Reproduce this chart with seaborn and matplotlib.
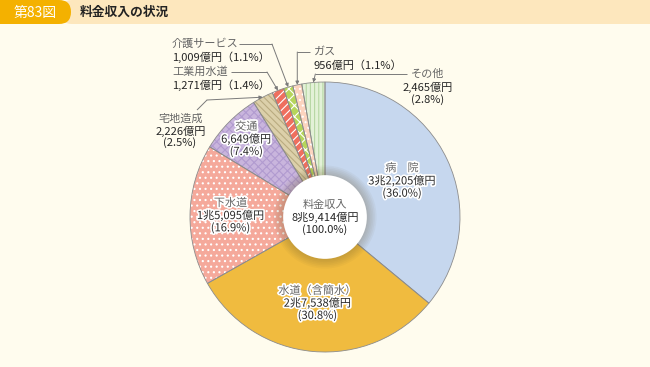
import numpy as np
import pandas as pd
import matplotlib
matplotlib.use('Agg')
import matplotlib.pyplot as plt
import seaborn as sns
from matplotlib.patches import Circle, FancyBboxPatch
import matplotlib.patheffects as pe

# ---------------- data ----------------
categories = ['病　院', '水道（含簡水）', '下水道', '交通', '宅地造成', '工業用水道', '介護サービス', 'ガス', 'その他']
values = [32205, 27538, 15095, 6649, 2226, 1271, 1009, 956, 2465]  # 億円
value_labels = ['3兆2,205億円', '2兆7,538億円', '1兆5,095億円', '6,649億円', '2,226億円',
                '1,271億円', '1,009億円', '956億円', '2,465億円']
percents = ['36.0%', '30.8%', '16.9%', '7.4%', '2.5%', '1.4%', '1.1%', '1.1%', '2.8%']
center_title = '料金収入'
total_label = '8兆9,414億円'
total_percent = '100.0%'
fig_no = '第83図'
title = '料金収入の状況'

# ---------------- style ----------------
sns.set_theme(style='white')
plt.rcParams['font.family'] = ['Noto Sans CJK JP', 'DejaVu Sans']
plt.rcParams['hatch.linewidth'] = 0.8

BG = '#FFFCEE'
face = ['#C6D7EE', '#F0BB3F', '#F5A99B', '#C9B5DD', '#DCD0AA', '#EF6F5E', '#B6D55B', '#FCD4BF', '#E3F1D7']
hatches = [None, None, '...', 'xxxx', '\\\\\\\\\\', '////', 'xxx', '...', '||||']
hcolors = [None, None, 'white', '#B19BD0', '#B9AB80', 'white', 'white', 'white', '#B7D7A4']

W, H = 650, 367
CX, CY, R = 325, 217, 135

fig = plt.figure(figsize=(W / 100, H / 100), dpi=100)
fig.patch.set_facecolor(BG)
ax = fig.add_axes([0, 0, 1, 1])
ax.set_facecolor('none')


def P(px, py):
    return ((px - CX) / R, (CY - py) / R)


df = pd.DataFrame({'category': categories, 'value': values})

# fill + hatch layer
wedges, _ = ax.pie(df['value'], startangle=90, counterclock=False, colors=face,
                   wedgeprops=dict(linewidth=0))
for w, h, hc in zip(wedges, hatches, hcolors):
    if h:
        w.set_hatch(h)
        w.set_edgecolor(hc)
        w.set_linewidth(0)
# outline layer
ax.pie(df['value'], startangle=90, counterclock=False, colors=face,
       wedgeprops=dict(fill=False, edgecolor='#8C8C8C', linewidth=0.6))

# inner hole with soft shadow
for k in range(6):
    ax.add_patch(Circle((0, 0), 0.31 + 0.012 * (6 - k), fc='#6A5A30', ec='none', alpha=0.05, zorder=4))
ax.add_patch(Circle((0, 0), 0.31, fc='white', ec='none', zorder=5))

ax.set_xlim(-CX / R, (W - CX) / R)
ax.set_ylim(-(H - CY) / R, CY / R)
ax.set_aspect('auto')
ax.axis('off')

FS = 8.0
LS = 12.5 / R
halo = [pe.withStroke(linewidth=2.4, foreground='white')]
NAME_C = '#666666'
VAL_C = '#262626'


def mid_angle(w):
    return np.deg2rad((w.theta1 + w.theta2) / 2)


# internal labels
inner_r = {0: 0.63, 1: 0.64, 2: 0.70, 3: 0.82}
for i, r in inner_r.items():
    a = mid_angle(wedges[i])
    x, y = r * np.cos(a), r * np.sin(a)
    ax.text(x, y + LS, categories[i], ha='center', va='center', fontsize=FS, color=NAME_C,
            path_effects=halo, zorder=7)
    ax.text(x, y, value_labels[i], ha='center', va='center', fontsize=FS, color=VAL_C,
            path_effects=halo, zorder=7)
    ax.text(x, y - LS, '(' + percents[i] + ')', ha='center', va='center', fontsize=FS, color=VAL_C,
            path_effects=halo, zorder=7)

# center label
ax.text(0, LS, center_title, ha='center', va='center', fontsize=FS, color=NAME_C, zorder=7)
ax.text(0, 0, total_label, ha='center', va='center', fontsize=FS, color=VAL_C, zorder=7)
ax.text(0, -LS, '(' + total_percent + ')', ha='center', va='center', fontsize=FS, color=VAL_C, zorder=7)

LINE_C = '#7A7A7A'


def tip_of(i):
    a = mid_angle(wedges[i])
    return (np.cos(a), np.sin(a))


def leader(points, tip):
    xs = [p[0] for p in points]
    ys = [p[1] for p in points]
    ax.plot(xs, ys, color=LINE_C, lw=0.7, solid_capstyle='butt', zorder=6, clip_on=False)
    ax.annotate('', xy=tip, xytext=points[-1],
                arrowprops=dict(arrowstyle='-|>', color=LINE_C, lw=0.7, mutation_scale=5,
                                shrinkA=0, shrinkB=0), zorder=6)


# 介護サービス
t = tip_of(6)
ax.text(*P(172, 44), categories[6], ha='left', va='center', fontsize=FS, color=NAME_C)
ax.text(*P(172, 57), value_labels[6] + '（' + percents[6] + '）', ha='left', va='center', fontsize=FS, color=VAL_C)
leader([P(239, 44), P(272, 44)], t)

# 工業用水道
t = tip_of(5)
ax.text(*P(172, 72), categories[5], ha='left', va='center', fontsize=FS, color=NAME_C)
ax.text(*P(172, 85), value_labels[5] + '（' + percents[5] + '）', ha='left', va='center', fontsize=FS, color=VAL_C)
leader([P(231, 72), P(267, 72)], t)

# 宅地造成
t = tip_of(4)
ax.text(*P(181, 119), categories[4], ha='center', va='center', fontsize=FS, color=NAME_C)
ax.text(*P(181, 131), value_labels[4], ha='center', va='center', fontsize=FS, color=VAL_C)
ax.text(*P(180, 143), '(' + percents[4] + ')', ha='center', va='center', fontsize=FS, color=VAL_C)
leader([P(197, 110), P(207, 100)], t)

# ガス
t = tip_of(7)
ax.text(*P(314, 52), categories[7], ha='left', va='center', fontsize=FS, color=NAME_C)
ax.text(*P(314, 66), value_labels[7] + '（' + percents[7] + '）', ha='left', va='center', fontsize=FS, color=VAL_C)
leader([P(310, 52), (t[0], (CY - 52) / R)], t)

# その他
t = tip_of(8)
ax.text(*P(428, 74), categories[8], ha='center', va='center', fontsize=FS, color=NAME_C)
ax.text(*P(428, 87), value_labels[8], ha='center', va='center', fontsize=FS, color=VAL_C)
ax.text(*P(428, 100), '(' + percents[8] + ')', ha='center', va='center', fontsize=FS, color=VAL_C)
leader([P(407, 74), (t[0] + 2 / R, (CY - 74) / R)], t)

# ---------------- header ----------------
HH = 24
hax = fig.add_axes([0, 1 - HH / H, 1, HH / H])
hax.set_xlim(0, W)
hax.set_ylim(HH, 0)
hax.axis('off')
hax.add_patch(FancyBboxPatch((60, 0), 640, HH, boxstyle='round,pad=0,rounding_size=12',
                             fc='#FDE7BD', ec='none'))
hax.add_patch(FancyBboxPatch((-30, 0), 101, HH, boxstyle='round,pad=0,rounding_size=12',
                             fc='#F4B100', ec='none'))
hax.text(35, 12.5, fig_no, ha='center', va='center', fontsize=10, color='white')
hax.text(80, 12.5, title, ha='left', va='center', fontsize=9.2, color='#222222', fontweight='bold')

fig.savefig('out.png', dpi=100, facecolor=BG)
